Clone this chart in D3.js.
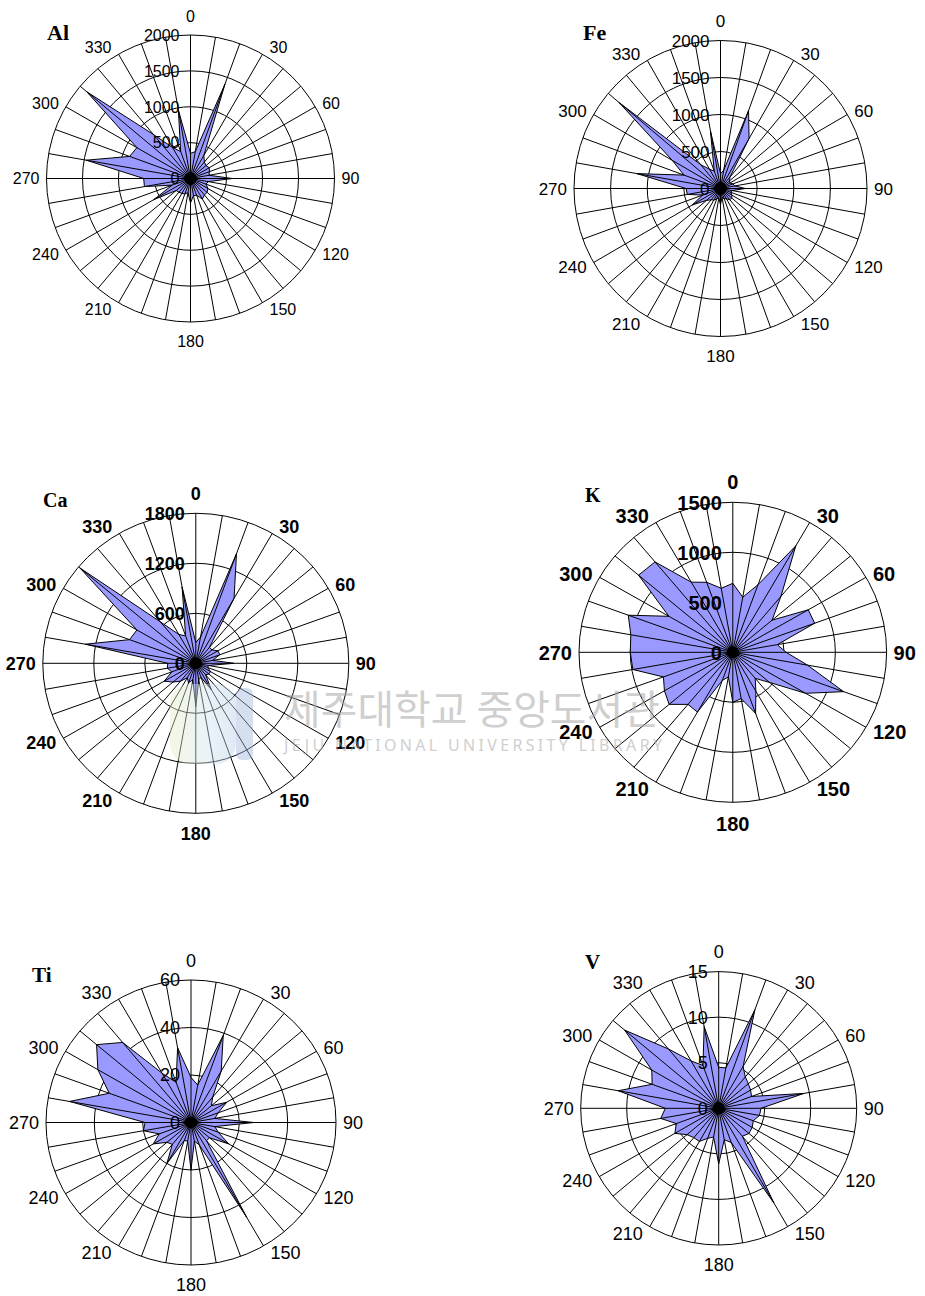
<!DOCTYPE html>
<html>
<head>
<meta charset="utf-8">
<script src="https://cdn.jsdelivr.net/npm/d3@7"></script>
<style>
  html, body { margin: 0; padding: 0; background: #ffffff; }
  svg { display: block; }
</style>
</head>
<body>
<svg id="fig" width="925" height="1296"></svg>
<script>
// Wind directions (degrees, clockwise from north), one spoke per 10 degrees
const directions = [0, 10, 20, 30, 40, 50, 60, 70, 80, 90, 100, 110, 120, 130, 140, 150, 160, 170,
                    180, 190, 200, 210, 220, 230, 240, 250, 260, 270, 280, 290, 300, 310, 320, 330, 340, 350];
// Directions that carry a text label
const labeledDirections = [0, 30, 60, 90, 120, 150, 180, 210, 240, 270, 300, 330];

// Concentration by wind direction for each element
const alValues = [350, 380, 1400, 370, 300, 280, 300, 280, 260, 580, 250, 230,
                  280, 300, 300, 330, 250, 240, 340, 200, 230, 240, 250, 260,
                  590, 270, 650, 650, 1470, 900, 860, 1880, 800, 500, 400, 970];
const feValues = [200, 250, 1120, 780, 200, 160, 150, 180, 200, 340, 160, 150,
                  180, 200, 200, 160, 150, 120, 220, 130, 150, 180, 200, 250,
                  445, 260, 460, 470, 1160, 530, 760, 1810, 420, 300, 250, 790];
const caValues = [250, 320, 1400, 900, 250, 250, 300, 300, 200, 450, 150, 150,
                  200, 200, 180, 370, 180, 200, 520, 200, 250, 200, 280, 350,
                  430, 300, 340, 330, 1320, 830, 800, 1780, 650, 400, 350, 930];
const kValues  = [690, 560, 720, 1230, 730, 500, 850, 850, 440, 520, 740, 1150,
                  820, 470, 340, 450, 650, 470, 500, 250, 300, 690, 680, 810,
                  770, 720, 990, 1000, 1010, 1085, 720, 1200, 1180, 810, 745, 650];
const tiValues = [19, 16, 39, 25, 14, 11, 17, 12, 10, 26, 10, 12,
                  18, 10, 10, 46, 10, 8, 20, 8, 8, 20, 12, 13,
                  18, 14, 20, 19, 51, 36, 44.5, 51, 44, 24, 18, 32];
const vValues  = [4.5, 4.5, 11.5, 5.3, 4.5, 4.2, 4.0, 3.8, 9.4, 4.6, 4.5, 4.0,
                  4.2, 4.3, 4.0, 12.0, 4.0, 3.5, 6.1, 3.2, 3.5, 4.2, 4.2, 4.5,
                  5.5, 4.9, 6.4, 5.8, 11.1, 7.7, 8.4, 13.35, 8.5, 6.0, 5.0, 9.1];

// Radial axis ticks for each element
const alTicks = [0, 500, 1000, 1500, 2000];
const feTicks = [0, 500, 1000, 1500, 2000];
const caTicks = [0, 600, 1200, 1800];
const kTicks  = [0, 500, 1000, 1500];
const tiTicks = [0, 20, 40, 60];
const vTicks  = [0, 5, 10, 15];

// Panel layout
const panels = [
  { title: "Al", values: alValues, ticks: alTicks, cx: 190.5, cy: 178.5, rx: 144, ry: 143.5, fs: 16, bold: false, tx: 47,  ty: 40,  tfs: 22 },
  { title: "Fe", values: feValues, ticks: feTicks, cx: 720.5, cy: 188.5, rx: 146.5, ry: 148, fs: 17, bold: false, tx: 583, ty: 40,  tfs: 22 },
  { title: "Ca", values: caValues, ticks: caTicks, cx: 195.8, cy: 663.3, rx: 153, ry: 150, fs: 18, bold: true,  tx: 43,  ty: 507, tfs: 20 },
  { title: "K",  values: kValues,  ticks: kTicks,  cx: 732.8, cy: 652.3, rx: 153.8, ry: 150, fs: 20, bold: true, tx: 585, ty: 502, tfs: 20 },
  { title: "Ti", values: tiValues, ticks: tiTicks, cx: 191,   cy: 1122.5, rx: 145, ry: 142.5, fs: 18, bold: false, tx: 32, ty: 982, tfs: 21 },
  { title: "V",  values: vValues,  ticks: vTicks,  cx: 718.7, cy: 1108.3, rx: 138, ry: 136.7, fs: 18, bold: false, tx: 585, ty: 969, tfs: 21 }
];

const svg = d3.select("#fig");
svg.append("rect").attr("width", 925).attr("height", 1296).attr("fill", "#ffffff");

const angle = d3.scaleLinear().domain([0, 360]).range([0, 2 * Math.PI]);
const SANS = "'Liberation Sans', Arial, Helvetica, sans-serif";
const SERIF = "'Liberation Serif', 'Times New Roman', serif";

panels.forEach(p => {
  const g = svg.append("g");
  const r = d3.scaleLinear().domain([0, d3.max(p.ticks)]).range([0, 1]);
  const px = (a, v) => p.cx + p.rx * r(v) * Math.sin(angle(a));
  const py = (a, v) => p.cy - p.ry * r(v) * Math.cos(angle(a));
  const vmax = d3.max(p.ticks);

  // circular gridlines
  g.selectAll("ellipse.ring").data(p.ticks.filter(t => t > 0)).join("ellipse")
    .attr("class", "ring")
    .attr("cx", p.cx).attr("cy", p.cy)
    .attr("rx", t => p.rx * r(t)).attr("ry", t => p.ry * r(t))
    .attr("fill", "none").attr("stroke", "#000").attr("stroke-width", 1);

  // concentration polygon
  const area = d3.line()
    .x((v, i) => px(directions[i], v))
    .y((v, i) => py(directions[i], v))
    .curve(d3.curveLinearClosed);
  g.append("path").attr("d", area(p.values))
    .attr("fill", "#9999ff").attr("stroke", "#000").attr("stroke-width", 1)
    .attr("stroke-linejoin", "miter");

  // direction spokes
  g.selectAll("line.spoke").data(directions).join("line")
    .attr("class", "spoke")
    .attr("x1", p.cx).attr("y1", p.cy)
    .attr("x2", a => px(a, vmax)).attr("y2", a => py(a, vmax))
    .attr("stroke", "#000").attr("stroke-width", 1);

  // hub where the spokes meet
  g.append("circle").attr("cx", p.cx).attr("cy", p.cy).attr("r", 6).attr("fill", "#000");

  const weight = p.bold ? "bold" : "normal";

  // radial tick labels along the north spoke
  g.selectAll("text.tick").data(p.ticks).join("text")
    .attr("class", "tick")
    .attr("x", p.cx - 11)
    .attr("y", t => py(0, t) + 0.36 * p.fs)
    .attr("text-anchor", "end")
    .attr("font-family", SANS).attr("font-size", p.fs).attr("font-weight", weight)
    .attr("fill", "#000")
    .text(t => t);

  // direction labels
  const lab = g.selectAll("text.dir").data(labeledDirections).join("text")
    .attr("class", "dir")
    .attr("text-anchor", "middle")
    .attr("font-family", SANS).attr("font-size", p.fs).attr("font-weight", weight)
    .attr("fill", "#000")
    .text(a => a);
  lab.each(function (a) {
    const w = this.getComputedTextLength();
    const s = Math.sin(angle(a)), c = Math.cos(angle(a));
    let x, y;
    if (Math.abs(s) < 1e-6) {
      x = p.cx;
      y = p.cy - Math.sign(c) * (p.ry + p.fs * 0.55 + 10);
    } else {
      x = p.cx + s * p.rx + Math.sign(s) * (w / 2 + 7);
      y = p.cy - c * (p.ry + 8);
    }
    d3.select(this).attr("x", x).attr("y", y + 0.36 * p.fs);
  });

  // element name
  g.append("text")
    .attr("x", p.tx).attr("y", p.ty)
    .attr("font-family", SERIF).attr("font-size", p.tfs).attr("font-weight", "bold")
    .attr("fill", "#000")
    .text(p.title);
});

// library watermark
const wm = svg.append("g").attr("opacity", 0.55);
const logoGrad = wm.append("defs").append("linearGradient").attr("id", "logoGrad")
  .attr("x1", "0").attr("y1", "0").attr("x2", "1").attr("y2", "0");
logoGrad.append("stop").attr("offset", "0%").attr("stop-color", "#e6efc8");
logoGrad.append("stop").attr("offset", "60%").attr("stop-color", "#cfe3ee");
logoGrad.append("stop").attr("offset", "100%").attr("stop-color", "#b9d0ea");
wm.append("rect").attr("x", 170).attr("y", 684).attr("width", 66).attr("height", 80)
  .attr("rx", 20).attr("fill", "url(#logoGrad)").attr("opacity", 0.8);
wm.append("rect").attr("x", 236).attr("y", 688).attr("width", 17).attr("height", 72)
  .attr("rx", 6).attr("fill", "#9db7dc").attr("opacity", 0.8);
wm.append("text")
  .attr("x", 284).attr("y", 724)
  .attr("font-family", "'Noto Sans CJK KR', 'Noto Sans', sans-serif")
  .attr("font-size", 40).attr("fill", "#a8a8a8")
  .attr("textLength", 376).attr("lengthAdjust", "spacingAndGlyphs")
  .text("제주대학교 중앙도서관");
wm.append("text")
  .attr("x", 284).attr("y", 751)
  .attr("font-family", "'Noto Sans', sans-serif")
  .attr("font-size", 16).attr("fill", "#a8a8a8")
  .attr("textLength", 378).attr("lengthAdjust", "spacing")
  .text("JEJU NATIONAL UNIVERSITY  LIBRARY");
</script>
</body>
</html>
